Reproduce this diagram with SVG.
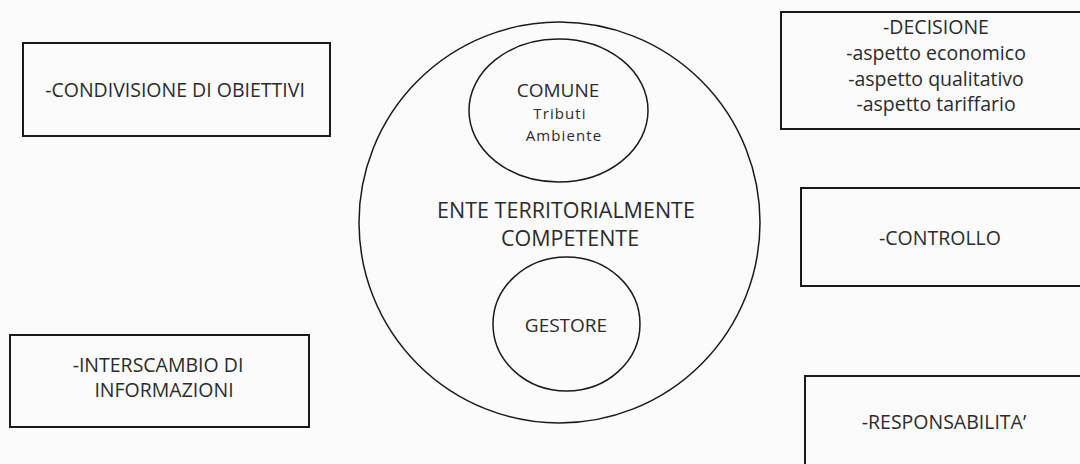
<svg xmlns="http://www.w3.org/2000/svg" width="1080" height="464" viewBox="0 0 1080 464">
<style>
.box{fill:none;stroke:#1a1a1a;stroke-width:2}
.ell{fill:none;stroke:#1a1a1a;stroke-width:1.5}
text{font-family:"Open Sans","Liberation Sans",sans-serif;fill:#2b2b2b;text-anchor:middle}
.t{font-size:19.5px}
.tb{font-size:21.5px}
.tc{font-size:19px}
.ts{font-size:15px;letter-spacing:1.1px}
</style>
<rect width="1080" height="464" fill="#fbfbfb"/>
<g id="connectors"></g>
<g id="condivisione">
<rect class="box" x="23" y="43" width="307" height="93"/>
<text class="t" x="175" y="97">-CONDIVISIONE DI OBIETTIVI</text>
</g>
<g id="decisione">
<rect class="box" x="781" y="12" width="310" height="117"/>
<text class="t" x="936" y="34">-DECISIONE</text>
<text class="t" x="936" y="60">-aspetto economico</text>
<text class="t" x="936" y="86">-aspetto qualitativo</text>
<text class="t" x="936" y="111">-aspetto tariffario</text>
</g>
<g id="controllo">
<rect class="box" x="801" y="188" width="290" height="98"/>
<text class="t" x="940" y="245">-CONTROLLO</text>
</g>
<g id="interscambio">
<rect class="box" x="10" y="335" width="299" height="92"/>
<text class="t" x="158" y="372">-INTERSCAMBIO DI</text>
<text class="t" x="164" y="397">INFORMAZIONI</text>
</g>
<g id="responsabilita">
<rect class="box" x="805" y="376" width="290" height="100"/>
<text class="t" x="944" y="429">-RESPONSABILITA’</text>
</g>
<g id="ente">
<ellipse class="ell" cx="559.5" cy="222.5" rx="200.5" ry="200.5"/>
<text class="tb" x="566" y="218">ENTE TERRITORIALMENTE</text>
<text class="tb" x="570" y="246">COMPETENTE</text>
</g>
<g id="comune">
<ellipse class="ell" cx="558.5" cy="110.5" rx="89.5" ry="71.5"/>
<text class="tc" x="558" y="97">COMUNE</text>
<text class="ts" x="560" y="119">Tributi</text>
<text class="ts" x="564" y="141">Ambiente</text>
</g>
<g id="gestore">
<ellipse class="ell" cx="566.5" cy="324" rx="73.5" ry="67"/>
<text class="tc" x="566" y="332">GESTORE</text>
</g>
</svg>
